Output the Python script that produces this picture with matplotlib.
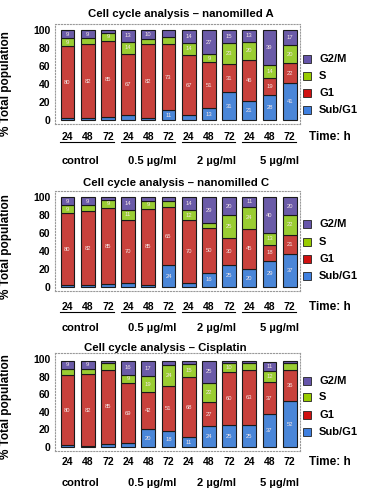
import numpy as np
import matplotlib
matplotlib.use('Agg')
import matplotlib.pyplot as plt
from matplotlib.patches import Rectangle
from matplotlib.transforms import blended_transform_factory

plt.rcParams['font.family'] = ['Liberation Sans', 'DejaVu Sans']

groups = ['control', '0.5 µg/ml', '2 µg/ml', '5 µg/ml']
times = ['24', '48', '72']
phases = ['Sub/G1', 'G1', 'S', 'G2/M']

# nanomilled A
A_sub = [2, 2, 3, 6, 2, 11, 5, 13, 31, 21, 28, 41]
A_g1 = [80, 82, 85, 67, 82, 73, 67, 51, 31, 46, 19, 22]
A_s = [9, 7, 9, 14, 6, 8, 14, 9, 23, 20, 14, 20]
A_g2m = [9, 9, 3, 13, 10, 8, 14, 27, 15, 13, 39, 17]

# nanomilled C
C_sub = [2, 2, 3, 5, 2, 24, 4, 16, 25, 20, 29, 37]
C_g1 = [80, 82, 85, 70, 85, 65, 70, 50, 30, 45, 18, 21]
C_s = [9, 7, 9, 11, 9, 7, 12, 5, 25, 24, 13, 22]
C_g2m = [9, 9, 3, 14, 4, 4, 14, 29, 20, 11, 40, 20]

# cisplatin
P_sub = [2, 1, 3, 4, 20, 18, 11, 24, 25, 25, 37, 52]
P_g1 = [80, 82, 85, 69, 42, 51, 68, 27, 60, 63, 37, 36]
P_s = [7, 6, 8, 9, 19, 24, 15, 22, 10, 7, 12, 7]
P_g2m = [9, 9, 2, 16, 17, 5, 4, 25, 3, 3, 11, 3]

colors = ['#4a86d8', '#c8413c', '#9acd32', '#6b5ba8']
legend_colors = ['#3f80e0', '#d01010', '#99cc00', '#6655aa']

W, H = 374, 494
fig = plt.figure(figsize=(W / 100, H / 100), dpi=100)
fig.patch.set_facecolor('white')


def fx(x):
    return x / W


def fy(y):
    return 1 - y / H


panels = [
    # title, data, title_y, title_x, y100, y0, xlab_y, grp_y, underline, ylab_pos, legend ys
    ('Cell cycle analysis \u2013 nanomilled A', (A_sub, A_g1, A_s, A_g2m),
     14, 181, 30, 120, 137, 161, 142, 0.40, [59, 76, 93, 110]),
    ('Cell cycle analysis \u2013 nanomilled C', (C_sub, C_g1, C_s, C_g2m),
     183, 176, 197, 287, 307, 328, 312, 0.436, [224, 242, 259, 276]),
    ('Cell cycle analysis \u2013 Cisplatin', (P_sub, P_g1, P_s, P_g2m),
     348, 165, 359, 447, 462, 483, None, 0.445, [381, 397, 415, 432]),
]

x = np.arange(12)
left_px, right_px = 55, 300
c0, step = 67.5, 20.2
xmin = (left_px - c0) / step
xmax = (right_px - c0) / step
ylo, yhi = -4, 107
grp_x = [0.62, 4.18, 7.4, 10.5]

for title, data, ty, tx, y100, y0, xly, gy, uly, ylp, legy in panels:
    scale = (y0 - y100) / 100.0
    top = y100 - (yhi - 100) * scale
    bot = y0 - ylo * scale
    ax = fig.add_axes([fx(left_px), fy(bot), fx(right_px - left_px), (bot - top) / H])
    bottom = np.zeros(12)
    for vals, col in zip(data, colors):
        v = np.array(vals, dtype=float)
        ax.bar(x, v, bottom=bottom, width=0.69, color=col, edgecolor='#1a1a1a', linewidth=0.8)
        for xi, b, h in zip(x, bottom, v):
            if h >= 9:
                ax.text(xi, b + h / 2, str(int(h)), ha='center', va='center',
                        fontsize=4.2, color='#f4e6e6')
        bottom += v
    ax.set_xlim(xmin, xmax)
    ax.set_ylim(ylo, yhi)
    ax.set_yticks([0, 20, 40, 60, 80, 100])
    ax.set_yticklabels(['0', '20', '40', '60', '80', '100'], fontweight='bold', fontsize=7.5)
    ax.set_xticks(x)
    ax.set_xticklabels(times * 4, fontweight='bold', fontsize=7.5)
    ax.tick_params(axis='y', length=0, pad=3.2)
    ax.tick_params(axis='x', length=0, pad=(xly - 5 - bot) * 0.72)
    for sp in ax.spines.values():
        sp.set_linestyle(':')
        sp.set_color('#999999')
        sp.set_linewidth(0.8)
    ax.set_ylabel('% Total population', fontweight='bold', fontsize=8.5)
    ax.yaxis.set_label_coords((12 - left_px) / (right_px - left_px), ylp)

    fig.text(fx(tx), fy(ty), title, ha='center', va='center', fontsize=8.2, fontweight='bold')

    tr = blended_transform_factory(ax.transData, fig.transFigure)
    for gx, g in zip(grp_x, groups):
        ax.text(gx, fy(gy), g, transform=tr, ha='center', va='center',
                fontsize=8, fontweight='bold')
    if uly is not None:
        for k in range(4):
            ax.plot([3 * k - 0.35, 3 * k + 2 + 0.3], [fy(uly), fy(uly)], transform=tr,
                    color='black', linewidth=0.8, clip_on=False)

    fig.text(fx(309), fy(xly), 'Time: h', ha='left', va='center', fontsize=8.5, fontweight='bold')

    for ly, lab, col in zip(legy, phases[::-1], legend_colors[::-1]):
        fig.add_artist(Rectangle((fx(303), fy(ly + 4)), fx(8), 8 / H, transform=fig.transFigure,
                                 facecolor=col, edgecolor='#222222', linewidth=0.6))
        fig.text(fx(319), fy(ly), lab, ha='left', va='center', fontsize=8, fontweight='bold')

fig.savefig('out.png', dpi=100, facecolor='white')
